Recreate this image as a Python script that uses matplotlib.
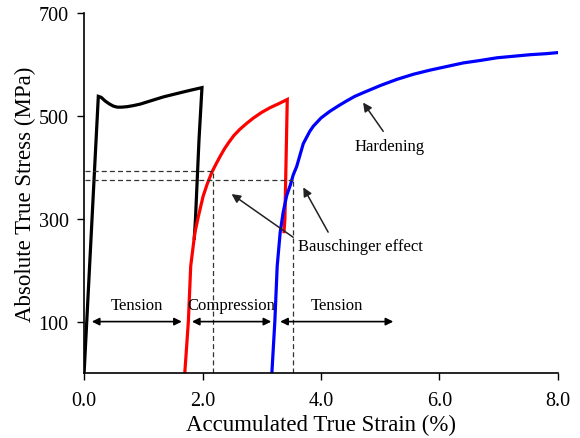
import matplotlib.pyplot as plt

plt.rcParams['font.family'] = ['Liberation Serif', 'DejaVu Serif']

# first tension (black)
tens1_strain = [0.0, 0.24, 0.29, 0.355, 0.43, 0.495, 0.56, 0.636, 0.73, 0.83, 0.95, 1.06, 1.20,
                1.34, 1.48, 1.62, 1.80, 1.99, 1.94, 1.88, 1.86]
tens1_stress = [0, 538, 536, 529, 523, 519, 517, 517, 518, 520, 523, 527, 532,
                537, 541, 545, 550, 555, 454, 299, 262]

# compression (red)
comp_strain = [1.70, 1.76, 1.80, 1.87, 1.93, 2.01, 2.08, 2.155, 2.23, 2.30, 2.37, 2.44, 2.53,
               2.63, 2.75, 2.86, 3.00, 3.14, 3.29, 3.43, 3.39, 3.375]
comp_stress = [0, 100, 208, 273, 305, 344, 368, 390, 407, 422, 436, 448, 462,
               474, 486, 496, 507, 516, 524, 532, 299, 275]

# second tension (blue)
tens2_strain = [3.17, 3.22, 3.26, 3.31, 3.36, 3.42, 3.48, 3.53, 3.59, 3.70, 3.81, 3.87, 4.00,
                4.15, 4.30, 4.43, 4.57, 4.71, 5.00, 5.28, 5.56, 5.84, 6.12, 6.40, 6.70,
                6.97, 7.25, 7.53, 7.80, 7.99]
tens2_stress = [0, 100, 208, 273, 312, 345, 365, 385, 402, 446, 470, 480, 496,
                509, 520, 529, 538, 545, 559, 571, 581, 589, 596, 603, 608,
                613, 616, 619, 621, 623]

# Bauschinger reference levels
yield_comp = (2.17, 393)
yield_tens = (3.52, 376)

fig = plt.figure(figsize=(5.8, 4.39), dpi=100)
ax = fig.add_axes([0.145, 0.148, 0.817, 0.82])

ax.plot(tens1_strain, tens1_stress, color='black', lw=2.3, solid_joinstyle='miter')
ax.plot(comp_strain, comp_stress, color='red', lw=2.3, solid_joinstyle='miter')
ax.plot(tens2_strain, tens2_stress, color='blue', lw=2.3)

# dashed guides
for x, y in [yield_comp, yield_tens]:
    ax.plot([0.02, x], [y, y], color='#333333', lw=0.9, ls=(0, (4, 2.5)))
    ax.plot([x, x], [0, y], color='#333333', lw=0.9, ls=(0, (4, 2.5)))

# loading-stage arrows
stages = [('Tension', 0.13, 1.65), ('Compression', 1.82, 3.16), ('Tension', 3.31, 5.22)]
for name, x0, x1 in stages:
    ax.annotate('', xy=(x0, 100), xytext=(x1, 100),
                arrowprops=dict(arrowstyle='<|-|>', color='black', lw=1.2,
                                mutation_scale=11, shrinkA=0, shrinkB=0))
    ax.text((x0 + x1) / 2, 116, name, ha='center', va='bottom', fontsize=12)

ax.text(3.61, 247, 'Bauschinger effect', ha='left', va='center', fontsize=12)
arr = dict(arrowstyle='-|>', color='#222222', lw=1.1, mutation_scale=13, shrinkA=0, shrinkB=0)
ax.annotate('', xy=(2.49, 348), xytext=(3.53, 264), arrowprops=arr)
ax.annotate('', xy=(3.70, 361), xytext=(4.12, 274), arrowprops=arr)

ax.text(5.16, 441, 'Hardening', ha='center', va='center', fontsize=12)
ax.annotate('', xy=(4.71, 526), xytext=(5.05, 470), arrowprops=arr)

ax.set_xlim(0, 8)
ax.set_ylim(0, 700)
ax.set_xticks([0, 2, 4, 6, 8])
ax.set_xticklabels(['0.0', '2.0', '4.0', '6.0', '8.0'])
ax.set_yticks([100, 300, 500, 700])
ax.tick_params(labelsize=14.5, direction='out', length=5, width=1)
ax.tick_params(axis='x', pad=8)
ax.tick_params(axis='y', pad=6)
ax.spines['top'].set_visible(False)
ax.spines['right'].set_visible(False)
ax.spines['left'].set_linewidth(1.2)
ax.spines['bottom'].set_linewidth(1.2)
ax.set_xlabel('Accumulated True Strain (%)', fontsize=16.5, labelpad=3)
ax.set_ylabel('Absolute True Stress (MPa)', fontsize=16.5, labelpad=2)

fig.savefig('out.png', dpi=100)
